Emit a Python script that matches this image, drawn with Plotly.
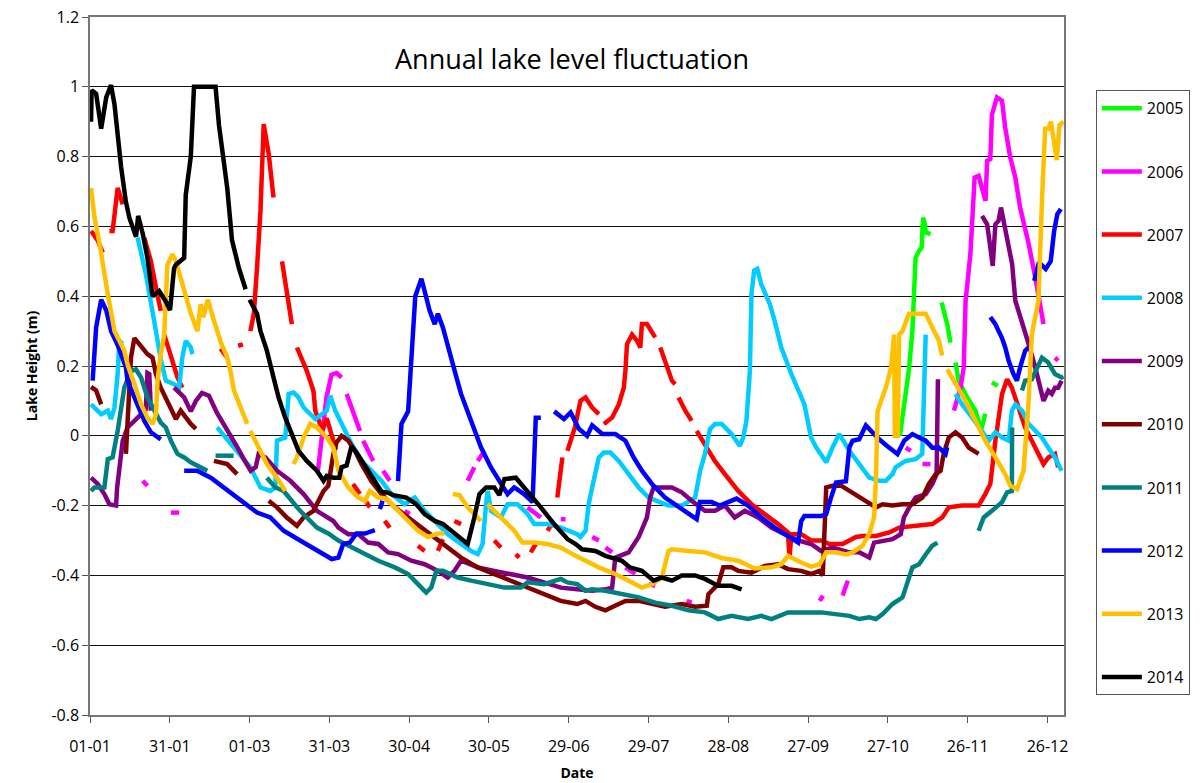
import plotly.graph_objects as go

# Day-of-year (leap year numbering) and lake height (m); None marks a gap in the record
GAP = None

lvl_2005 = [(305.5, 0.0), (306.5, 0.05), (307.5, 0.12), (308.9, 0.19), (310.2, 0.30), (310.8, 0.406),
            (311.4, 0.51), (312.7, 0.53), (313.7, 0.54), (314.2, 0.625), (314.9, 0.606), (315.2, 0.583),
            (317.0, 0.578), GAP,
            (321.2, 0.382), (323.3, 0.32), (324.5, 0.267), GAP,
            (326.4, 0.21), (327.6, 0.158), (330.8, 0.11), (333.9, 0.072), (335.8, 0.024), GAP,
            (336.2, 0.02), (337.6, 0.063), GAP,
            (340.1, 0.153), (342.3, 0.143)]

lvl_2006 = [(20.8, -0.129), (22.6, -0.143), GAP,
            (31.4, -0.22), (34.5, -0.22), GAP,
            (86.7, -0.10), (89.9, 0.11), (91.8, 0.175), (93.7, 0.18), (95.6, 0.167), GAP,
            (97.5, 0.12), (102.5, 0.014), GAP,
            (103.7, -0.014), (107.5, -0.072), GAP,
            (111.2, -0.10), (113.7, -0.129), GAP,
            (119.3, -0.215), (121.2, -0.224), GAP,
            (143.0, -0.129), (145.5, -0.09), GAP,
            (146.8, -0.072), (149.3, -0.043), GAP,
            (165.5, -0.205), (170.5, -0.234), GAP,
            (178.0, -0.239), (179.8, -0.239), GAP,
            (189.8, -0.29), (192.3, -0.30), GAP,
            (194.8, -0.32), (197.3, -0.334), GAP,
            (202.3, -0.377), (206.0, -0.396), GAP,
            (211.0, -0.425), (213.5, -0.43), GAP,
            (225.3, -0.473), (227.2, -0.478), GAP,
            (275.3, -0.473), (276.6, -0.458), GAP,
            (284.0, -0.458), (285.9, -0.415), GAP,
            (307.7, -0.034), (309.6, -0.043), GAP,
            (314.0, -0.081), (317.0, -0.081), GAP,
            (325.8, 0.072), (328.3, 0.138), (329.5, 0.196), (330.2, 0.387), (332.0, 0.52), (332.7, 0.645),
            (333.6, 0.74), (335.1, 0.745), (337.0, 0.692), (337.7, 0.673), (338.3, 0.788), (339.5, 0.793),
            (340.1, 0.92), (342.0, 0.97), (343.9, 0.96), (345.1, 0.883), (347.0, 0.797), (348.9, 0.74),
            (350.7, 0.654), (353.9, 0.55), (356.4, 0.454), (358.2, 0.368), (359.5, 0.32), GAP,
            (363.8, 0.215), (365.0, 0.224)]

lvl_2007 = [(1.4, 0.587), (3.9, 0.56), (5.8, 0.525), GAP,
            (8.3, 0.587), (9.5, 0.587), (11.4, 0.71), (12.4, 0.69), (13.3, 0.663), GAP,
            (21.4, 0.568), (23.9, 0.50), (25.8, 0.425), (27.6, 0.358), GAP,
            (28.9, 0.29), (31.4, 0.224), (33.9, 0.167), (35.7, 0.138), GAP,
            (50.1, 0.25), (52.6, 0.224), GAP,
            (56.7, 0.258), (58.5, 0.262), GAP,
            (61.3, 0.30), (62.6, 0.35), (63.8, 0.482), (65.1, 0.645), (66.3, 0.893), (68.2, 0.807),
            (70.0, 0.683), GAP,
            (73.2, 0.50), (75.0, 0.415), (76.9, 0.32), GAP,
            (78.8, 0.253), (82.5, 0.186), (85.0, 0.129), (85.7, 0.072), (87.5, 0.034), (88.8, 0.024),
            (90.0, 0.05), (92.5, -0.014), (93.5, -0.04), GAP,
            (99.9, -0.138), (102.5, -0.167), GAP,
            (104.9, -0.19), (106.2, -0.205), GAP,
            (111.8, -0.244), (113.7, -0.263), GAP,
            (124.3, -0.315), (126.8, -0.33), GAP,
            (131.8, -0.33), (133.7, -0.296), GAP,
            (138.0, -0.244), (140.5, -0.253), GAP,
            (153.0, -0.30), (155.5, -0.32), GAP,
            (161.1, -0.339), (162.4, -0.349), GAP,
            (166.7, -0.334), (168.6, -0.31), GAP,
            (173.0, -0.272), (174.2, -0.258), GAP,
            (176.7, -0.177), (178.6, -0.062), GAP,
            (180.5, -0.043), (183.3, 0.024), (185.4, 0.10), (187.3, 0.11), (189.8, 0.081), (192.3, 0.062), GAP,
            (194.2, 0.034), (197.3, 0.052), (199.8, 0.09), (201.7, 0.138), (202.3, 0.186), (202.9, 0.263),
            (204.8, 0.29), (206.7, 0.272), (207.9, 0.253), (208.5, 0.32), (210.4, 0.32), (213.5, 0.282), GAP,
            (215.4, 0.253), (217.9, 0.196), (219.8, 0.158), (221.0, 0.148), GAP,
            (222.3, 0.11), (224.8, 0.072), (227.2, 0.043), GAP,
            (229.1, 0.014), (232.2, -0.024), (235.9, -0.072), (239.7, -0.11), (244.7, -0.158),
            (249.7, -0.196), (254.7, -0.224), (259.7, -0.253), (263.4, -0.277), (264.0, -0.349),
            (264.7, -0.282), (268.4, -0.282), (272.1, -0.30), (275.9, -0.30), (279.0, -0.31), (284.0, -0.31),
            (289.0, -0.29), (291.5, -0.287), (296.5, -0.287), (301.5, -0.277), (305.2, -0.263),
            (310.2, -0.258), (317.7, -0.253), (321.4, -0.234), (323.9, -0.205), (328.9, -0.2),
            (335.1, -0.2), (337.6, -0.167), (339.5, -0.138), (341.4, -0.014), (343.9, 0.12), (345.8, 0.162),
            (347.6, 0.138), (350.1, 0.081), (352.6, 0.024), (355.1, -0.014), (357.6, -0.052),
            (359.5, -0.081), (361.3, -0.062), (363.8, -0.052), (365.0, -0.09)]

lvl_2008 = [(1.4, 0.09), (2.7, 0.081), (5.2, 0.062), (7.7, 0.072), (8.9, 0.048), (10.2, 0.081),
            (11.4, 0.177), (12.0, 0.263), (13.3, 0.272), GAP,
            (18.9, 0.568), (20.8, 0.50), (22.0, 0.463), (25.1, 0.33), (27.6, 0.22), (29.5, 0.158),
            (32.6, 0.148), (34.5, 0.138), (35.7, 0.224), (37.0, 0.272), (38.9, 0.253), (39.5, 0.234), GAP,
            (48.8, 0.024), (55.1, -0.034), (61.3, -0.09), (65.1, -0.148), (68.8, -0.158), (70.7, -0.148),
            (71.3, -0.014), (74.4, -0.005), (75.7, 0.12), (77.5, 0.124), (79.4, 0.11), (81.3, 0.081),
            (83.8, 0.062), (85.7, 0.048), (90.0, 0.072), (91.3, 0.115), (93.2, 0.072), (95.6, 0.034),
            (99.4, -0.024), (103.1, -0.072), (106.8, -0.10), (110.6, -0.129), (114.3, -0.167),
            (119.3, -0.196), (123.1, -0.177), (126.8, -0.215), (130.6, -0.244), (135.5, -0.282),
            (140.5, -0.31), (144.3, -0.33), (146.8, -0.339), (148.6, -0.31), (149.9, -0.196),
            (150.5, -0.158), (151.8, -0.215), (155.5, -0.234), (158.0, -0.196), (161.7, -0.196),
            (165.5, -0.224), (168.0, -0.253), (173.0, -0.253), (178.0, -0.263), (184.2, -0.282),
            (185.4, -0.29), (187.3, -0.272), (188.5, -0.196), (189.8, -0.148), (191.0, -0.10),
            (192.3, -0.062), (194.2, -0.048), (196.7, -0.048), (199.8, -0.072), (203.5, -0.11),
            (207.3, -0.148), (211.0, -0.177), (214.8, -0.19), (218.5, -0.2), (223.5, -0.2),
            (226.6, -0.186), (228.5, -0.177), (230.4, -0.10), (232.2, -0.052), (234.1, 0.019),
            (236.0, 0.034), (238.5, 0.034), (242.2, 0.005), (245.3, -0.029), (246.6, -0.005),
            (247.8, 0.043), (249.1, 0.186), (249.7, 0.406), (250.7, 0.473), (251.9, 0.478),
            (253.4, 0.434), (256.6, 0.377), (258.4, 0.33), (260.9, 0.253), (264.0, 0.186),
            (264.7, 0.177), (269.6, 0.09), (272.1, -0.005), (274.0, -0.033), (275.9, -0.052),
            (277.8, -0.076), (280.2, -0.033), (282.7, 0.005), (286.5, -0.043), (290.2, -0.081),
            (294.0, -0.12), (297.7, -0.129), (300.2, -0.129), (302.7, -0.11), (303.9, -0.09),
            (307.7, -0.072), (311.4, -0.067), (313.9, -0.052), (314.6, 0.10), (315.2, 0.29), GAP,
            (326.4, 0.12), (328.9, 0.09), (332.7, 0.052), (336.4, 0.014), (338.9, -0.014), (341.4, 0.01),
            (343.9, -0.005), (346.4, -0.014), (347.6, 0.072), (348.9, 0.09), (351.4, 0.072),
            (353.9, 0.034), (356.4, 0.014), (358.9, -0.005), (361.3, -0.034), (363.8, -0.062),
            (366.3, -0.10)]

lvl_2009 = [(1.4, -0.12), (3.9, -0.138), (6.4, -0.167), (8.3, -0.196), (10.8, -0.2), (11.2, -0.148),
            (13.3, -0.014), (15.1, 0.024), (17.7, 0.043), (20.2, 0.062), (22.0, 0.076), (22.6, 0.18),
            (23.3, 0.177), (23.9, 0.072), GAP,
            (32.6, 0.138), (36.4, 0.11), (38.9, 0.07), (40.8, 0.10), (43.1, 0.123), (45.7, 0.115),
            (48.7, 0.066), (52.5, 0.02), (56.2, -0.03), (59.2, -0.072), (61.4, -0.10), (63.3, -0.09),
            (64.4, -0.052), (67.0, -0.062), (71.3, -0.10), (76.3, -0.129), (81.3, -0.167), (86.3, -0.215),
            (92.5, -0.244), (94.4, -0.263), (98.1, -0.282), (101.9, -0.282), (105.6, -0.306),
            (109.4, -0.31), (113.1, -0.334), (116.8, -0.339), (121.8, -0.358), (126.8, -0.368),
            (131.8, -0.387), (135.5, -0.406), (138.0, -0.387), (140.5, -0.358), (146.8, -0.377),
            (153.0, -0.387), (159.2, -0.396), (165.5, -0.406), (171.7, -0.42), (178.0, -0.435),
            (184.2, -0.44), (189.8, -0.444), (194.8, -0.44), (197.3, -0.435), (198.5, -0.349),
            (203.5, -0.334), (207.3, -0.29), (210.4, -0.234), (211.6, -0.177), (212.9, -0.148),
            (219.8, -0.148), (223.5, -0.162), (227.2, -0.186), (232.2, -0.215), (236.0, -0.215),
            (239.7, -0.2), (243.4, -0.234), (247.2, -0.215), (252.2, -0.234), (257.2, -0.263),
            (262.2, -0.282), (267.2, -0.30), (272.1, -0.31), (275.9, -0.33), (280.2, -0.32),
            (286.5, -0.334), (290.2, -0.334), (294.0, -0.349), (295.8, -0.306), (299.0, -0.30),
            (302.7, -0.296), (305.8, -0.282), (307.0, -0.234), (309.0, -0.205), (311.4, -0.177),
            (315.2, -0.167), (317.7, -0.138), (319.3, -0.11), (319.8, 0.162), GAP,
            (336.4, 0.63), (338.3, 0.606), (339.5, 0.54), (340.4, 0.487), (341.4, 0.606), (342.6, 0.616),
            (343.5, 0.654), (345.1, 0.587), (347.7, 0.492), (348.9, 0.387), (351.4, 0.33), (353.9, 0.263),
            (356.4, 0.196), (358.9, 0.12), (359.5, 0.10), (361.3, 0.129), (362.6, 0.12), (363.8, 0.138),
            (365.0, 0.138), (366.3, 0.158)]

lvl_2010 = [(1.4, 0.14), (3.3, 0.13), (5.2, 0.09), GAP,
            (14.5, -0.052), (16.4, 0.224), (17.7, 0.28), (19.5, 0.263), (22.6, 0.234), (24.5, 0.224),
            (25.8, 0.177), (27.6, 0.138), (29.5, 0.11), (32.0, 0.072), (33.3, 0.048), (35.1, 0.072),
            (37.0, 0.052), (38.9, 0.034), (40.8, 0.02), GAP,
            (47.6, -0.072), (52.6, -0.081), (56.3, -0.11), GAP,
            (68.2, -0.186), (71.3, -0.205), (75.0, -0.234), (78.8, -0.258), (81.3, -0.234), (85.0, -0.215),
            (88.8, -0.158), (90.6, -0.143), (92.5, -0.052), (93.7, -0.019), (95.6, 0.0), (98.1, -0.014),
            (100.6, -0.043), (103.1, -0.081), (106.8, -0.13), (110.6, -0.167), (115.6, -0.205),
            (120.6, -0.234), (125.6, -0.263), (130.6, -0.29), (135.5, -0.32), (140.5, -0.349),
            (146.8, -0.377), (153.0, -0.396), (159.2, -0.415), (165.5, -0.435), (171.7, -0.454),
            (178.0, -0.473), (184.2, -0.482), (187.3, -0.473), (191.0, -0.49), (194.8, -0.50),
            (199.8, -0.482), (202.3, -0.473), (207.3, -0.473), (212.3, -0.482), (217.2, -0.49),
            (223.5, -0.482), (228.5, -0.49), (232.9, -0.487), (233.5, -0.454), (237.2, -0.425),
            (239.1, -0.377), (242.2, -0.377), (244.7, -0.387), (249.7, -0.392), (254.7, -0.373),
            (259.7, -0.368), (263.4, -0.382), (268.4, -0.387), (272.1, -0.396), (275.2, -0.387),
            (276.5, -0.40), (277.8, -0.148), (280.2, -0.143), (283.4, -0.143), (286.5, -0.158),
            (290.2, -0.177), (294.0, -0.196), (296.5, -0.205), (299.0, -0.196), (302.7, -0.2),
            (306.5, -0.196), (310.2, -0.196), (314.0, -0.177), (316.4, -0.138), (319.0, -0.11),
            (320.8, -0.10), (322.0, -0.05), (323.9, -0.005), (326.4, 0.01), (328.9, -0.005),
            (331.4, -0.034), (335.1, -0.052)]

lvl_2011 = [(1.4, -0.158), (2.7, -0.148), (6.4, -0.148), (7.7, -0.067), (9.5, -0.062), (11.4, 0.014),
            (13.9, 0.138), (16.4, 0.186), (18.3, 0.19), (20.2, 0.167), (22.6, 0.11), (25.8, 0.062),
            (27.6, 0.038), (29.5, 0.024), (31.4, -0.014), (33.9, -0.052), (36.4, -0.062), (38.9, -0.076),
            (42.6, -0.09), (45.1, -0.10), GAP,
            (48.2, -0.057), (55.0, -0.057), GAP,
            (67.5, -0.12), (70.7, -0.148), (73.8, -0.158), (80.0, -0.215), (86.3, -0.263), (90.6, -0.28),
            (94.4, -0.30), (99.4, -0.32), (103.1, -0.334), (109.4, -0.358), (115.6, -0.377),
            (120.6, -0.396), (124.3, -0.425), (127.4, -0.449), (129.3, -0.435), (131.2, -0.387),
            (133.7, -0.387), (139.3, -0.406), (144.3, -0.415), (150.5, -0.425), (156.8, -0.435),
            (163.0, -0.435), (165.5, -0.42), (171.7, -0.425), (178.0, -0.41), (180.5, -0.42),
            (184.2, -0.425), (187.3, -0.444), (189.8, -0.44), (194.8, -0.444), (201.0, -0.454),
            (207.3, -0.463), (213.5, -0.478), (219.8, -0.487), (226.0, -0.50), (232.2, -0.506),
            (237.2, -0.525), (242.2, -0.516), (248.4, -0.525), (253.4, -0.516), (257.2, -0.525),
            (263.4, -0.506), (275.9, -0.506), (286.5, -0.516), (290.2, -0.525), (294.0, -0.52),
            (296.5, -0.525), (299.0, -0.511), (302.7, -0.482), (306.5, -0.463), (310.2, -0.377),
            (312.7, -0.368), (315.2, -0.34), (317.7, -0.315), (319.6, -0.306), GAP,
            (335.1, -0.272), (337.0, -0.234), (340.1, -0.215), (343.9, -0.19), (345.8, -0.162),
            (347.6, -0.158), (347.7, 0.024), GAP,
            (351.4, 0.13), (352.6, 0.158), (355.1, 0.162), (358.9, 0.224), (361.3, 0.21), (363.8, 0.177),
            (366.3, 0.167), (367.0, 0.17)]

lvl_2012 = [(2.0, 0.158), (3.3, 0.31), (5.2, 0.39), (7.1, 0.36), (8.9, 0.30), (11.4, 0.26), (14.5, 0.196),
            (15.1, 0.158), (17.7, 0.11), (21.4, 0.043), (23.9, 0.01), (27.6, -0.01), GAP,
            (36.4, -0.10), (41.3, -0.10), (46.4, -0.12), (51.3, -0.148), (57.6, -0.186), (63.8, -0.22),
            (68.8, -0.234), (73.8, -0.272), (80.0, -0.30), (86.3, -0.33), (91.9, -0.353), (94.4, -0.349),
            (96.2, -0.31), (98.7, -0.306), (101.2, -0.28), (104.4, -0.28), (108.1, -0.27), GAP,
            (110.0, -0.21), (111.0, -0.186), GAP,
            (116.8, -0.13), (118.1, 0.034), (120.6, 0.07), (121.2, 0.158), (122.4, 0.29), (123.3, 0.40),
            (125.6, 0.45), (126.8, 0.415), (128.7, 0.358), (130.6, 0.32), (131.8, 0.35), (133.7, 0.31),
            (135.6, 0.253), (138.1, 0.186), (140.5, 0.12), (144.3, 0.043), (148.0, -0.033), (151.7, -0.09),
            (155.5, -0.138), (158.0, -0.167), (160.5, -0.148), (164.2, -0.167), (167.4, -0.19),
            (168.6, 0.052), (170.5, 0.052), GAP,
            (175.5, 0.07), (179.2, 0.048), (181.7, 0.067), (184.8, 0.02), (187.9, 0.0), (189.8, 0.03),
            (193.6, 0.005), (198.5, 0.005), (202.3, -0.014), (205.4, -0.062), (208.5, -0.10),
            (212.3, -0.138), (217.2, -0.177), (222.3, -0.205), (226.0, -0.224), (229.1, -0.239),
            (230.3, -0.19), (234.7, -0.19), (237.8, -0.2), (240.9, -0.19), (244.1, -0.18), (248.4, -0.2),
            (253.4, -0.234), (258.4, -0.263), (263.4, -0.287), (267.2, -0.306), (268.4, -0.244),
            (269.6, -0.23), (275.9, -0.23), (277.8, -0.224), (279.6, -0.177), (281.5, -0.134),
            (285.2, -0.13), (286.5, -0.033), (287.7, -0.014), (290.2, -0.01), (292.7, 0.03),
            (295.2, 0.01), (297.7, -0.01), (300.8, -0.03), (304.6, -0.052), (307.1, -0.014),
            (310.2, 0.005), (312.7, -0.005), (315.2, -0.014), (317.7, -0.034), (320.2, -0.034),
            (322.7, -0.052), (323.3, -0.033), GAP,
            (339.5, 0.34), (341.4, 0.32), (342.6, 0.30), (343.9, 0.28), (345.1, 0.253), (346.4, 0.215),
            (348.2, 0.177), (349.5, 0.158), (350.7, 0.196), (352.6, 0.244), (353.9, 0.253), GAP,
            (356.0, 0.444), (357.8, 0.497), (360.3, 0.478), (362.2, 0.50), (363.5, 0.587), (364.7, 0.635),
            (366.0, 0.65)]

lvl_2013 = [(1.4, 0.71), (2.7, 0.625), (4.6, 0.55), (5.8, 0.49), (7.7, 0.405), (9.5, 0.33), (10.2, 0.30),
            (13.9, 0.244), (15.1, 0.205), (17.7, 0.148), (20.2, 0.09), (22.6, 0.052), (24.5, 0.034),
            (25.8, 0.062), (26.4, 0.158), (27.6, 0.234), (28.9, 0.29), (30.1, 0.49), (30.8, 0.50),
            (32.0, 0.52), (33.3, 0.50), (36.4, 0.415), (38.9, 0.35), (41.4, 0.30), (42.6, 0.377),
            (43.6, 0.34), (45.3, 0.39), (47.6, 0.33), (50.1, 0.27), (52.6, 0.224), (53.8, 0.186),
            (55.1, 0.13), (57.6, 0.081), (60.1, 0.034), GAP,
            (61.3, 0.014), (65.1, -0.043), (67.5, -0.081), (71.3, -0.12), (74.4, -0.158), GAP,
            (77.5, -0.081), (78.8, -0.062), (81.3, -0.005), (83.8, 0.034), (86.3, 0.024), (90.0, -0.005),
            (92.5, -0.034), (94.4, -0.10), (98.1, -0.148), (101.9, -0.177), (104.4, -0.186),
            (106.2, -0.158), (109.4, -0.177), (112.5, -0.18), (115.6, -0.205), (120.6, -0.244),
            (124.3, -0.272), (128.1, -0.29), (131.8, -0.28), (134.3, -0.28), GAP,
            (137.4, -0.167), (139.9, -0.17), (143.0, -0.205), (145.5, -0.224), (148.0, -0.244), GAP,
            (150.5, -0.196), (153.0, -0.215), (156.8, -0.244), (160.5, -0.272), (163.6, -0.306),
            (168.0, -0.306), (173.0, -0.31), (178.0, -0.32), (183.6, -0.344), (187.3, -0.358),
            (192.3, -0.377), (198.5, -0.396), (203.5, -0.415), (208.5, -0.435), (212.3, -0.425),
            (216.0, -0.406), (218.5, -0.33), (219.8, -0.325), (226.0, -0.33), (232.2, -0.334),
            (238.4, -0.35), (244.7, -0.358), (250.9, -0.38), (257.2, -0.377), (260.9, -0.368),
            (263.4, -0.344), (268.4, -0.363), (272.1, -0.375), (275.3, -0.368), (277.8, -0.334),
            (281.5, -0.334), (285.2, -0.34), (287.7, -0.334), (291.5, -0.315), (294.0, -0.28),
            (295.8, -0.234), (296.5, -0.12), (297.1, 0.07), (298.4, 0.10), (300.3, 0.14),
            (302.2, 0.196), (303.3, 0.29), (303.6, 0.0), (304.7, 0.0), (305.2, 0.29), (306.5, 0.30),
            (308.9, 0.35), (315.2, 0.35), (317.7, 0.31), (320.2, 0.272), (321.4, 0.23), GAP,
            (323.3, 0.19), (326.4, 0.148), (330.2, 0.10), (333.9, 0.043), (337.6, -0.014),
            (341.4, -0.062), (345.1, -0.11), (347.0, -0.143), (349.5, -0.153), (352.0, -0.10),
            (353.9, 0.10), (355.1, 0.29), (357.6, 0.387), (358.9, 0.67), (360.1, 0.88), (361.3, 0.88),
            (362.3, 0.90), (363.2, 0.855), (364.5, 0.79), (365.5, 0.89), (367.0, 0.90)]

lvl_2014 = [(1.4, 0.90), (1.6, 0.99), (3.3, 0.98), (5.2, 0.88), (7.1, 0.97), (8.9, 1.005), (10.2, 0.95),
            (11.4, 0.855), (12.7, 0.77), (14.5, 0.67), (15.8, 0.625), (18.3, 0.57), (19.1, 0.63),
            (20.8, 0.58), (22.6, 0.51), (24.5, 0.40), (27.0, 0.415), (29.5, 0.385), (31.1, 0.36),
            (32.6, 0.48), (33.3, 0.49), (36.4, 0.51), (37.0, 0.69), (38.9, 0.80), (40.1, 1.0), (48.2, 1.0),
            (49.5, 0.89), (52.6, 0.71), (54.4, 0.56), (57.0, 0.48), (59.5, 0.42), GAP,
            (61.0, 0.39), (63.8, 0.35), (65.1, 0.30), (67.5, 0.244), (70.0, 0.167), (71.9, 0.11),
            (74.4, 0.052), (76.9, 0.005), (79.4, -0.043), (82.5, -0.072), (86.3, -0.10), (88.8, -0.129),
            (90.0, -0.115), (92.5, -0.12), (94.7, -0.12), (95.6, -0.09), (97.5, -0.085), (99.3, -0.03),
            (101.2, -0.048), (105.6, -0.10), (110.6, -0.16), (113.1, -0.163), (115.0, -0.17),
            (119.9, -0.177), (123.7, -0.196), (126.8, -0.224), (130.6, -0.244), (133.7, -0.253),
            (138.0, -0.28), (143.0, -0.31), (145.5, -0.234), (147.4, -0.167), (149.9, -0.148),
            (153.0, -0.148), (154.9, -0.17), (156.8, -0.124), (161.1, -0.12), (165.5, -0.158),
            (170.5, -0.205), (175.5, -0.253), (180.5, -0.296), (183.6, -0.31), (186.0, -0.325),
            (191.0, -0.33), (194.8, -0.344), (201.0, -0.358), (204.0, -0.377), (208.5, -0.387),
            (212.9, -0.415), (216.0, -0.406), (219.8, -0.415), (223.5, -0.40), (228.5, -0.40),
            (232.2, -0.41), (237.2, -0.43), (242.2, -0.43), (246.0, -0.44)]

years = ["2005", "2006", "2007", "2008", "2009", "2010", "2011", "2012", "2013", "2014"]
series = [lvl_2005, lvl_2006, lvl_2007, lvl_2008, lvl_2009, lvl_2010, lvl_2011, lvl_2012, lvl_2013, lvl_2014]
colors = ["#00FF00", "#FF00FF", "#FF0000", "#00CCFF", "#800080", "#800000", "#008080", "#0000FF",
          "#FFC000", "#000000"]

tick_days = [1, 31, 61, 91, 121, 151, 181, 211, 241, 271, 301, 331, 361]
tick_labels = ["01-01", "31-01", "01-03", "31-03", "30-04", "30-05", "29-06", "29-07", "28-08",
               "27-09", "27-10", "26-11", "26-12"]
y_ticks = [1.2, 1.0, 0.8, 0.6, 0.4, 0.2, 0.0, -0.2, -0.4, -0.6, -0.8]
y_labels = ["1.2", "1", "0.8", "0.6", "0.4", "0.2", "0", "-0.2", "-0.4", "-0.6", "-0.8"]

fig = go.Figure()
for name, pts, col in zip(years, series, colors):
    xs, ys = [], []
    for p in pts:
        if p is None:
            xs.append(None)
            ys.append(None)
        else:
            xs.append(p[0])
            ys.append(p[1])
    fig.add_trace(go.Scatter(x=xs, y=ys, mode="lines", name=name, legendgroup=name,
                             line=dict(color=col, width=4.5), connectgaps=False))

FONT = "Open Sans, Lato, sans-serif"
fig.update_layout(
    width=1202, height=783,
    margin=dict(l=90, r=133, t=17, b=68),
    paper_bgcolor="white", plot_bgcolor="white",
    font=dict(family=FONT, color="black"),
    showlegend=True,
    legend=dict(x=1.0327, xanchor="left", y=0.895, yanchor="top",
                bordercolor="#555555", borderwidth=1, bgcolor="white",
                font=dict(size=16, family=FONT), tracegroupgap=39.4,
                itemwidth=40),
    annotations=[dict(text="Annual lake level fluctuation", xref="paper", yref="paper",
                      x=0.495, y=0.941, xanchor="center", yanchor="middle", showarrow=False,
                      font=dict(size=27, family=FONT, color="black"))],
)
fig.update_xaxes(range=[1, 367.2], tickmode="array", tickvals=tick_days, ticktext=tick_labels,
                 ticks="outside", ticklen=6, tickcolor="#555555", showgrid=False, zeroline=False,
                 showline=True, linecolor="#777777", linewidth=1.5, mirror=True, automargin=False,
                 tickfont=dict(size=16, family=FONT), ticklabelstandoff=10,
                 title=dict(text="<b>Date</b>", font=dict(size=14, family=FONT), standoff=12))
fig.update_yaxes(range=[-0.8, 1.2], tickmode="array", tickvals=y_ticks, ticktext=y_labels,
                 ticks="outside", ticklen=6, tickcolor="#555555", showgrid=True, gridcolor="#111111",
                 gridwidth=1, zeroline=False, showline=True, linecolor="#777777", linewidth=1.5,
                 mirror=True, automargin=False, tickfont=dict(size=16, family=FONT),
                 title=dict(text="<b>Lake Height (m)</b>", font=dict(size=14, family=FONT), standoff=10))

fig.write_html("out.html")
